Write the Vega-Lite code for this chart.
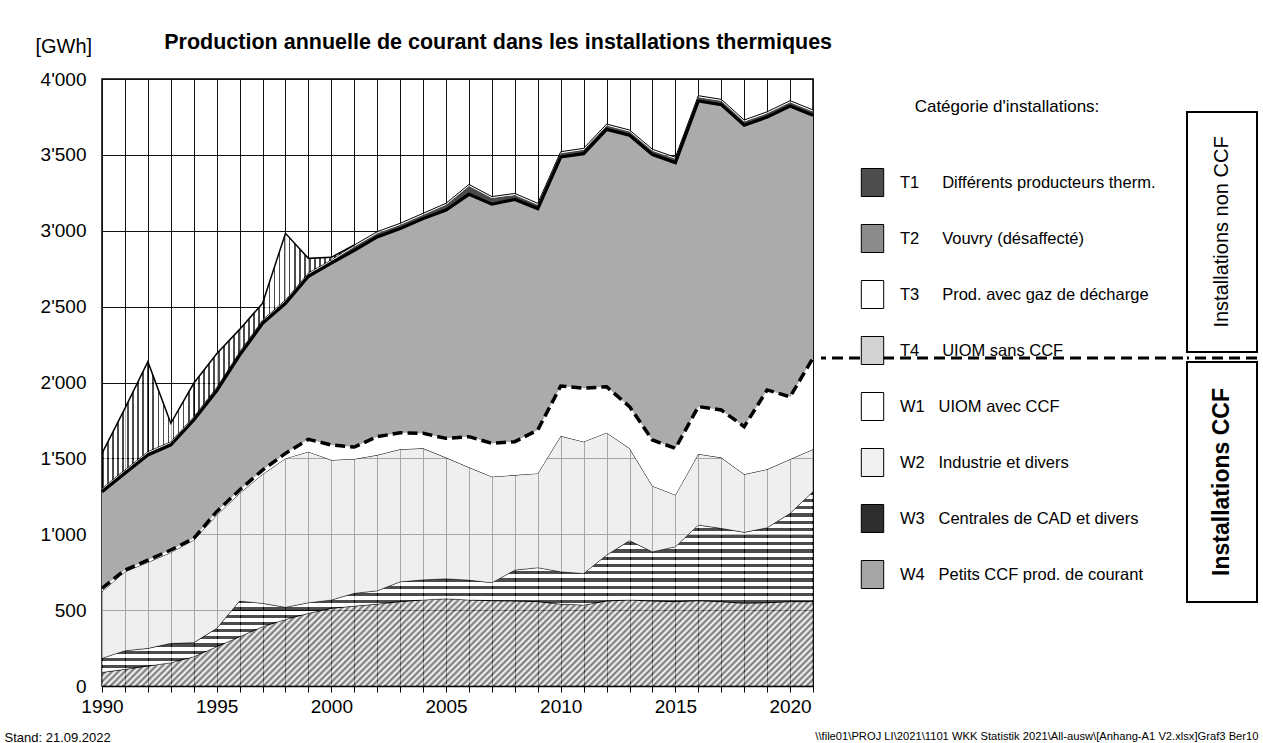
{
"$schema": "https://vega.github.io/schema/vega-lite/v6.json",
"background": "#ffffff",
"padding": {"left": 3, "top": 31, "right": 0, "bottom": 0},
"title": {"text": "Production annuelle de courant dans les installations thermiques", "anchor": "start", "frame": "bounds", "dx": 161, "dy": 40, "offset": 0, "baseline": "bottom", "fontSize": 21.5, "fontWeight": "bold", "font": "Liberation Sans", "color": "#000"},
"resolve": {"legend": {"color": "independent"}, "scale": {"color": "independent"}},
"datasets": {"prod": [
{"year":1990,"cat":"W4","value":90},{"year":1990,"cat":"W3","value":93},{"year":1990,"cat":"W2","value":438},{"year":1990,"cat":"W1","value":23},{"year":1990,"cat":"T4","value":636},{"year":1990,"cat":"T1","value":15},{"year":1990,"cat":"T3","value":8},{"year":1990,"cat":"T2","value":230},
{"year":1991,"cat":"W4","value":110},{"year":1991,"cat":"W3","value":123},{"year":1991,"cat":"W2","value":520},{"year":1991,"cat":"W1","value":11},{"year":1991,"cat":"T4","value":638},{"year":1991,"cat":"T1","value":15},{"year":1991,"cat":"T3","value":8},{"year":1991,"cat":"T2","value":405},
{"year":1992,"cat":"W4","value":132},{"year":1992,"cat":"W3","value":116},{"year":1992,"cat":"W2","value":567},{"year":1992,"cat":"W1","value":15},{"year":1992,"cat":"T4","value":692},{"year":1992,"cat":"T1","value":15},{"year":1992,"cat":"T3","value":8},{"year":1992,"cat":"T2","value":592},
{"year":1993,"cat":"W4","value":154},{"year":1993,"cat":"W3","value":127},{"year":1993,"cat":"W2","value":599},{"year":1993,"cat":"W1","value":16},{"year":1993,"cat":"T4","value":692},{"year":1993,"cat":"T1","value":15},{"year":1993,"cat":"T3","value":8},{"year":1993,"cat":"T2","value":120},
{"year":1994,"cat":"W4","value":193},{"year":1994,"cat":"W3","value":93},{"year":1994,"cat":"W2","value":676},{"year":1994,"cat":"W1","value":11},{"year":1994,"cat":"T4","value":780},{"year":1994,"cat":"T1","value":15},{"year":1994,"cat":"T3","value":8},{"year":1994,"cat":"T2","value":219},
{"year":1995,"cat":"W4","value":259},{"year":1995,"cat":"W3","value":121},{"year":1995,"cat":"W2","value":745},{"year":1995,"cat":"W1","value":24},{"year":1995,"cat":"T4","value":796},{"year":1995,"cat":"T1","value":15},{"year":1995,"cat":"T3","value":8},{"year":1995,"cat":"T2","value":222},
{"year":1996,"cat":"W4","value":325},{"year":1996,"cat":"W3","value":235},{"year":1996,"cat":"W2","value":710},{"year":1996,"cat":"W1","value":22},{"year":1996,"cat":"T4","value":888},{"year":1996,"cat":"T1","value":15},{"year":1996,"cat":"T3","value":8},{"year":1996,"cat":"T2","value":147},
{"year":1997,"cat":"W4","value":391},{"year":1997,"cat":"W3","value":154},{"year":1997,"cat":"W2","value":850},{"year":1997,"cat":"W1","value":28},{"year":1997,"cat":"T4","value":967},{"year":1997,"cat":"T1","value":15},{"year":1997,"cat":"T3","value":8},{"year":1997,"cat":"T2","value":109},
{"year":1998,"cat":"W4","value":439},{"year":1998,"cat":"W3","value":80},{"year":1998,"cat":"W2","value":981},{"year":1998,"cat":"W1","value":33},{"year":1998,"cat":"T4","value":989},{"year":1998,"cat":"T1","value":15},{"year":1998,"cat":"T3","value":8},{"year":1998,"cat":"T2","value":438},
{"year":1999,"cat":"W4","value":479},{"year":1999,"cat":"W3","value":70},{"year":1999,"cat":"W2","value":995},{"year":1999,"cat":"W1","value":82},{"year":1999,"cat":"T4","value":1074},{"year":1999,"cat":"T1","value":15},{"year":1999,"cat":"T3","value":8},{"year":1999,"cat":"T2","value":95},
{"year":2000,"cat":"W4","value":512},{"year":2000,"cat":"W3","value":55},{"year":2000,"cat":"W2","value":922},{"year":2000,"cat":"W1","value":99},{"year":2000,"cat":"T4","value":1198},{"year":2000,"cat":"T1","value":15},{"year":2000,"cat":"T3","value":8},{"year":2000,"cat":"T2","value":16},
{"year":2001,"cat":"W4","value":527},{"year":2001,"cat":"W3","value":84},{"year":2001,"cat":"W2","value":885},{"year":2001,"cat":"W1","value":79},{"year":2001,"cat":"T4","value":1296},{"year":2001,"cat":"T1","value":25},{"year":2001,"cat":"T3","value":10},{"year":2001,"cat":"T2","value":0},
{"year":2002,"cat":"W4","value":540},{"year":2002,"cat":"W3","value":88},{"year":2002,"cat":"W2","value":894},{"year":2002,"cat":"W1","value":121},{"year":2002,"cat":"T4","value":1316},{"year":2002,"cat":"T1","value":25},{"year":2002,"cat":"T3","value":10},
{"year":2003,"cat":"W4","value":556},{"year":2003,"cat":"W3","value":131},{"year":2003,"cat":"W2","value":873},{"year":2003,"cat":"W1","value":109},{"year":2003,"cat":"T4","value":1345},{"year":2003,"cat":"T1","value":25},{"year":2003,"cat":"T3","value":10},
{"year":2004,"cat":"W4","value":567},{"year":2004,"cat":"W3","value":133},{"year":2004,"cat":"W2","value":866},{"year":2004,"cat":"W1","value":99},{"year":2004,"cat":"T4","value":1415},{"year":2004,"cat":"T1","value":25},{"year":2004,"cat":"T3","value":10},
{"year":2005,"cat":"W4","value":575},{"year":2005,"cat":"W3","value":132},{"year":2005,"cat":"W2","value":798},{"year":2005,"cat":"W1","value":127},{"year":2005,"cat":"T4","value":1504},{"year":2005,"cat":"T1","value":35},{"year":2005,"cat":"T3","value":10},
{"year":2006,"cat":"W4","value":567},{"year":2006,"cat":"W3","value":131},{"year":2006,"cat":"W2","value":743},{"year":2006,"cat":"W1","value":202},{"year":2006,"cat":"T4","value":1597},{"year":2006,"cat":"T1","value":55},{"year":2006,"cat":"T3","value":10},
{"year":2007,"cat":"W4","value":562},{"year":2007,"cat":"W3","value":119},{"year":2007,"cat":"W2","value":698},{"year":2007,"cat":"W1","value":220},{"year":2007,"cat":"T4","value":1576},{"year":2007,"cat":"T1","value":40},{"year":2007,"cat":"T3","value":10},
{"year":2008,"cat":"W4","value":560},{"year":2008,"cat":"W3","value":204},{"year":2008,"cat":"W2","value":626},{"year":2008,"cat":"W1","value":220},{"year":2008,"cat":"T4","value":1596},{"year":2008,"cat":"T1","value":30},{"year":2008,"cat":"T3","value":10},
{"year":2009,"cat":"W4","value":556},{"year":2009,"cat":"W3","value":224},{"year":2009,"cat":"W2","value":621},{"year":2009,"cat":"W1","value":286},{"year":2009,"cat":"T4","value":1459},{"year":2009,"cat":"T1","value":25},{"year":2009,"cat":"T3","value":10},
{"year":2010,"cat":"W4","value":540},{"year":2010,"cat":"W3","value":213},{"year":2010,"cat":"W2","value":894},{"year":2010,"cat":"W1","value":330},{"year":2010,"cat":"T4","value":1509},{"year":2010,"cat":"T1","value":25},{"year":2010,"cat":"T3","value":10},
{"year":2011,"cat":"W4","value":534},{"year":2011,"cat":"W3","value":208},{"year":2011,"cat":"W2","value":868},{"year":2011,"cat":"W1","value":352},{"year":2011,"cat":"T4","value":1546},{"year":2011,"cat":"T1","value":25},{"year":2011,"cat":"T3","value":10},
{"year":2012,"cat":"W4","value":560},{"year":2012,"cat":"W3","value":303},{"year":2012,"cat":"W2","value":806},{"year":2012,"cat":"W1","value":303},{"year":2012,"cat":"T4","value":1696},{"year":2012,"cat":"T1","value":25},{"year":2012,"cat":"T3","value":10},
{"year":2013,"cat":"W4","value":567},{"year":2013,"cat":"W3","value":391},{"year":2013,"cat":"W2","value":608},{"year":2013,"cat":"W1","value":275},{"year":2013,"cat":"T4","value":1788},{"year":2013,"cat":"T1","value":25},{"year":2013,"cat":"T3","value":10},
{"year":2014,"cat":"W4","value":560},{"year":2014,"cat":"W3","value":325},{"year":2014,"cat":"W2","value":433},{"year":2014,"cat":"W1","value":303},{"year":2014,"cat":"T4","value":1881},{"year":2014,"cat":"T1","value":25},{"year":2014,"cat":"T3","value":10},
{"year":2015,"cat":"W4","value":556},{"year":2015,"cat":"W3","value":362},{"year":2015,"cat":"W2","value":341},{"year":2015,"cat":"W1","value":307},{"year":2015,"cat":"T4","value":1883},{"year":2015,"cat":"T1","value":25},{"year":2015,"cat":"T3","value":10},
{"year":2016,"cat":"W4","value":562},{"year":2016,"cat":"W3","value":499},{"year":2016,"cat":"W2","value":468},{"year":2016,"cat":"W1","value":312},{"year":2016,"cat":"T4","value":2014},{"year":2016,"cat":"T1","value":25},{"year":2016,"cat":"T3","value":10},
{"year":2017,"cat":"W4","value":556},{"year":2017,"cat":"W3","value":483},{"year":2017,"cat":"W2","value":466},{"year":2017,"cat":"W1","value":314},{"year":2017,"cat":"T4","value":2012},{"year":2017,"cat":"T1","value":25},{"year":2017,"cat":"T3","value":10},
{"year":2018,"cat":"W4","value":545},{"year":2018,"cat":"W3","value":468},{"year":2018,"cat":"W2","value":382},{"year":2018,"cat":"W1","value":314},{"year":2018,"cat":"T4","value":1986},{"year":2018,"cat":"T1","value":25},{"year":2018,"cat":"T3","value":10},
{"year":2019,"cat":"W4","value":549},{"year":2019,"cat":"W3","value":494},{"year":2019,"cat":"W2","value":385},{"year":2019,"cat":"W1","value":523},{"year":2019,"cat":"T4","value":1798},{"year":2019,"cat":"T1","value":25},{"year":2019,"cat":"T3","value":10},
{"year":2020,"cat":"W4","value":556},{"year":2020,"cat":"W3","value":582},{"year":2020,"cat":"W2","value":356},{"year":2020,"cat":"W1","value":412},{"year":2020,"cat":"T4","value":1916},{"year":2020,"cat":"T1","value":25},{"year":2020,"cat":"T3","value":10},
{"year":2021,"cat":"W4","value":556},{"year":2021,"cat":"W3","value":725},{"year":2021,"cat":"W2","value":279},{"year":2021,"cat":"W1","value":601},{"year":2021,"cat":"T4","value":1600},{"year":2021,"cat":"T1","value":25},{"year":2021,"cat":"T3","value":10}
]},
"spacing": -6,
"hconcat": [
{
 "width": 711, "height": 607,
 "view": {"stroke": "#000", "strokeWidth": 1.5},
 "data": {"name": "prod"},
 "transform": [{"stack": "value", "groupby": ["year"], "as": ["v0", "v1"]}],
 "encoding": {
  "x": {"field": "year", "type": "quantitative", "scale": {"domain": [1990, 2021], "nice": false, "zero": false},
   "axis": {"values": [1990,1991,1992,1993,1994,1995,1996,1997,1998,1999,2000,2001,2002,2003,2004,2005,2006,2007,2008,2009,2010,2011,2012,2013,2014,2015,2016,2017,2018,2019,2020,2021],
    "format": "d", "labelExpr": "datum.value % 5 === 0 ? datum.label : ''",
    "grid": true, "gridColor": "#111", "gridWidth": 1, "gridOpacity": 1,
    "domain": true, "domainColor": "#000", "domainWidth": 1.5,
    "ticks": true, "tickColor": "#000", "tickSize": 6, "tickWidth": 1,
    "labelFontSize": 19, "labelColor": "#000", "labelPadding": 5, "labelFlush": false, "labelOverlap": false, "labelBound": false,
    "title": "Stand: 21.09.2022", "titleX": -98, "titleY": 51, "titleAlign": "left", "titleAnchor": "start", "titleBaseline": "middle",
    "titleFontSize": 13, "titleFontWeight": "normal", "titleColor": "#000"}},
  "y": {"field": "v1", "type": "quantitative", "scale": {"domain": [0, 4000], "nice": false},
   "axis": {"values": [0,500,1000,1500,2000,2500,3000,3500,4000],
    "labelExpr": "replace(format(datum.value, ','), ',', \"'\")",
    "grid": true, "gridColor": "#111", "gridWidth": 1, "gridOpacity": 1,
    "domain": false, "ticks": false, "labelFontSize": 19, "labelColor": "#000", "labelPadding": 16,
    "title": "[GWh]", "titleAngle": 0, "titleX": -67, "titleY": -33, "titleAlign": "left", "titleAnchor": "start", "titleBaseline": "middle",
    "titleFontSize": 20, "titleFontWeight": "normal", "titleColor": "#000"}}
 },
 "layer": [
  {"transform": [{"filter": "datum.cat === 'W4'"}],
   "mark": {"type": "area", "orient": "vertical", "line": {"color": "#000", "strokeWidth": 1},
    "fill": {"gradient": "linear", "x1": 0, "y1": 0, "x2": 1.106, "y2": 0.136, "stops": [
{"offset":0,"color":"#333"},{"offset":0.004,"color":"#fff"},{"offset":0.008,"color":"#333"},{"offset":0.012,"color":"#fff"},{"offset":0.016,"color":"#333"},{"offset":0.02,"color":"#fff"},{"offset":0.024,"color":"#333"},{"offset":0.028,"color":"#fff"},{"offset":0.032,"color":"#333"},{"offset":0.036,"color":"#fff"},{"offset":0.04,"color":"#333"},{"offset":0.044,"color":"#fff"},{"offset":0.048,"color":"#333"},{"offset":0.052,"color":"#fff"},{"offset":0.056,"color":"#333"},{"offset":0.06,"color":"#fff"},{"offset":0.064,"color":"#333"},{"offset":0.068,"color":"#fff"},{"offset":0.072,"color":"#333"},{"offset":0.076,"color":"#fff"},{"offset":0.08,"color":"#333"},{"offset":0.084,"color":"#fff"},{"offset":0.088,"color":"#333"},{"offset":0.092,"color":"#fff"},{"offset":0.096,"color":"#333"},{"offset":0.1,"color":"#fff"},{"offset":0.104,"color":"#333"},{"offset":0.108,"color":"#fff"},{"offset":0.112,"color":"#333"},{"offset":0.116,"color":"#fff"},{"offset":0.12,"color":"#333"},{"offset":0.124,"color":"#fff"},{"offset":0.128,"color":"#333"},{"offset":0.132,"color":"#fff"},{"offset":0.136,"color":"#333"},{"offset":0.14,"color":"#fff"},{"offset":0.144,"color":"#333"},{"offset":0.148,"color":"#fff"},{"offset":0.152,"color":"#333"},{"offset":0.156,"color":"#fff"},{"offset":0.16,"color":"#333"},{"offset":0.164,"color":"#fff"},{"offset":0.168,"color":"#333"},{"offset":0.172,"color":"#fff"},{"offset":0.176,"color":"#333"},{"offset":0.18,"color":"#fff"},{"offset":0.184,"color":"#333"},{"offset":0.188,"color":"#fff"},{"offset":0.192,"color":"#333"},{"offset":0.196,"color":"#fff"},
{"offset":0.2,"color":"#333"},{"offset":0.204,"color":"#fff"},{"offset":0.208,"color":"#333"},{"offset":0.212,"color":"#fff"},{"offset":0.216,"color":"#333"},{"offset":0.22,"color":"#fff"},{"offset":0.224,"color":"#333"},{"offset":0.228,"color":"#fff"},{"offset":0.232,"color":"#333"},{"offset":0.236,"color":"#fff"},{"offset":0.24,"color":"#333"},{"offset":0.244,"color":"#fff"},{"offset":0.248,"color":"#333"},{"offset":0.252,"color":"#fff"},{"offset":0.256,"color":"#333"},{"offset":0.26,"color":"#fff"},{"offset":0.264,"color":"#333"},{"offset":0.268,"color":"#fff"},{"offset":0.272,"color":"#333"},{"offset":0.276,"color":"#fff"},{"offset":0.28,"color":"#333"},{"offset":0.284,"color":"#fff"},{"offset":0.288,"color":"#333"},{"offset":0.292,"color":"#fff"},{"offset":0.296,"color":"#333"},{"offset":0.3,"color":"#fff"},{"offset":0.304,"color":"#333"},{"offset":0.308,"color":"#fff"},{"offset":0.312,"color":"#333"},{"offset":0.316,"color":"#fff"},{"offset":0.32,"color":"#333"},{"offset":0.324,"color":"#fff"},{"offset":0.328,"color":"#333"},{"offset":0.332,"color":"#fff"},{"offset":0.336,"color":"#333"},{"offset":0.34,"color":"#fff"},{"offset":0.344,"color":"#333"},{"offset":0.348,"color":"#fff"},{"offset":0.352,"color":"#333"},{"offset":0.356,"color":"#fff"},{"offset":0.36,"color":"#333"},{"offset":0.364,"color":"#fff"},{"offset":0.368,"color":"#333"},{"offset":0.372,"color":"#fff"},{"offset":0.376,"color":"#333"},{"offset":0.38,"color":"#fff"},{"offset":0.384,"color":"#333"},{"offset":0.388,"color":"#fff"},{"offset":0.392,"color":"#333"},{"offset":0.396,"color":"#fff"},
{"offset":0.4,"color":"#333"},{"offset":0.404,"color":"#fff"},{"offset":0.408,"color":"#333"},{"offset":0.412,"color":"#fff"},{"offset":0.416,"color":"#333"},{"offset":0.42,"color":"#fff"},{"offset":0.424,"color":"#333"},{"offset":0.428,"color":"#fff"},{"offset":0.432,"color":"#333"},{"offset":0.436,"color":"#fff"},{"offset":0.44,"color":"#333"},{"offset":0.444,"color":"#fff"},{"offset":0.448,"color":"#333"},{"offset":0.452,"color":"#fff"},{"offset":0.456,"color":"#333"},{"offset":0.46,"color":"#fff"},{"offset":0.464,"color":"#333"},{"offset":0.468,"color":"#fff"},{"offset":0.472,"color":"#333"},{"offset":0.476,"color":"#fff"},{"offset":0.48,"color":"#333"},{"offset":0.484,"color":"#fff"},{"offset":0.488,"color":"#333"},{"offset":0.492,"color":"#fff"},{"offset":0.496,"color":"#333"},{"offset":0.5,"color":"#fff"},{"offset":0.504,"color":"#333"},{"offset":0.508,"color":"#fff"},{"offset":0.512,"color":"#333"},{"offset":0.516,"color":"#fff"},{"offset":0.52,"color":"#333"},{"offset":0.524,"color":"#fff"},{"offset":0.528,"color":"#333"},{"offset":0.532,"color":"#fff"},{"offset":0.536,"color":"#333"},{"offset":0.54,"color":"#fff"},{"offset":0.544,"color":"#333"},{"offset":0.548,"color":"#fff"},{"offset":0.552,"color":"#333"},{"offset":0.556,"color":"#fff"},{"offset":0.56,"color":"#333"},{"offset":0.564,"color":"#fff"},{"offset":0.568,"color":"#333"},{"offset":0.572,"color":"#fff"},{"offset":0.576,"color":"#333"},{"offset":0.58,"color":"#fff"},{"offset":0.584,"color":"#333"},{"offset":0.588,"color":"#fff"},{"offset":0.592,"color":"#333"},{"offset":0.596,"color":"#fff"},
{"offset":0.6,"color":"#333"},{"offset":0.604,"color":"#fff"},{"offset":0.608,"color":"#333"},{"offset":0.612,"color":"#fff"},{"offset":0.616,"color":"#333"},{"offset":0.62,"color":"#fff"},{"offset":0.624,"color":"#333"},{"offset":0.628,"color":"#fff"},{"offset":0.632,"color":"#333"},{"offset":0.636,"color":"#fff"},{"offset":0.64,"color":"#333"},{"offset":0.644,"color":"#fff"},{"offset":0.648,"color":"#333"},{"offset":0.652,"color":"#fff"},{"offset":0.656,"color":"#333"},{"offset":0.66,"color":"#fff"},{"offset":0.664,"color":"#333"},{"offset":0.668,"color":"#fff"},{"offset":0.672,"color":"#333"},{"offset":0.676,"color":"#fff"},{"offset":0.68,"color":"#333"},{"offset":0.684,"color":"#fff"},{"offset":0.688,"color":"#333"},{"offset":0.692,"color":"#fff"},{"offset":0.696,"color":"#333"},{"offset":0.7,"color":"#fff"},{"offset":0.704,"color":"#333"},{"offset":0.708,"color":"#fff"},{"offset":0.712,"color":"#333"},{"offset":0.716,"color":"#fff"},{"offset":0.72,"color":"#333"},{"offset":0.724,"color":"#fff"},{"offset":0.728,"color":"#333"},{"offset":0.732,"color":"#fff"},{"offset":0.736,"color":"#333"},{"offset":0.74,"color":"#fff"},{"offset":0.744,"color":"#333"},{"offset":0.748,"color":"#fff"},{"offset":0.752,"color":"#333"},{"offset":0.756,"color":"#fff"},{"offset":0.76,"color":"#333"},{"offset":0.764,"color":"#fff"},{"offset":0.768,"color":"#333"},{"offset":0.772,"color":"#fff"},{"offset":0.776,"color":"#333"},{"offset":0.78,"color":"#fff"},{"offset":0.784,"color":"#333"},{"offset":0.788,"color":"#fff"},{"offset":0.792,"color":"#333"},{"offset":0.796,"color":"#fff"},
{"offset":0.8,"color":"#333"},{"offset":0.804,"color":"#fff"},{"offset":0.808,"color":"#333"},{"offset":0.812,"color":"#fff"},{"offset":0.816,"color":"#333"},{"offset":0.82,"color":"#fff"},{"offset":0.824,"color":"#333"},{"offset":0.828,"color":"#fff"},{"offset":0.832,"color":"#333"},{"offset":0.836,"color":"#fff"},{"offset":0.84,"color":"#333"},{"offset":0.844,"color":"#fff"},{"offset":0.848,"color":"#333"},{"offset":0.852,"color":"#fff"},{"offset":0.856,"color":"#333"},{"offset":0.86,"color":"#fff"},{"offset":0.864,"color":"#333"},{"offset":0.868,"color":"#fff"},{"offset":0.872,"color":"#333"},{"offset":0.876,"color":"#fff"},{"offset":0.88,"color":"#333"},{"offset":0.884,"color":"#fff"},{"offset":0.888,"color":"#333"},{"offset":0.892,"color":"#fff"},{"offset":0.896,"color":"#333"},{"offset":0.9,"color":"#fff"},{"offset":0.904,"color":"#333"},{"offset":0.908,"color":"#fff"},{"offset":0.912,"color":"#333"},{"offset":0.916,"color":"#fff"},{"offset":0.92,"color":"#333"},{"offset":0.924,"color":"#fff"},{"offset":0.928,"color":"#333"},{"offset":0.932,"color":"#fff"},{"offset":0.936,"color":"#333"},{"offset":0.94,"color":"#fff"},{"offset":0.944,"color":"#333"},{"offset":0.948,"color":"#fff"},{"offset":0.952,"color":"#333"},{"offset":0.956,"color":"#fff"},{"offset":0.96,"color":"#333"},{"offset":0.964,"color":"#fff"},{"offset":0.968,"color":"#333"},{"offset":0.972,"color":"#fff"},{"offset":0.976,"color":"#333"},{"offset":0.98,"color":"#fff"},{"offset":0.984,"color":"#333"},{"offset":0.988,"color":"#fff"},{"offset":0.992,"color":"#333"},{"offset":0.996,"color":"#fff"},{"offset":1,"color":"#333"}
    ]}},
   "encoding": {"y2": {"field": "v0"}}},
  {"transform": [{"filter": "datum.cat === 'W3'"}],
   "mark": {"type": "area", "orient": "vertical", "line": {"color": "#000", "strokeWidth": 1},
    "fill": {"gradient": "linear", "x1": 0, "y1": 0, "x2": 0, "y2": 1, "stops": [
{"offset":0,"color":"#000"},{"offset":0.018,"color":"#000"},{"offset":0.018,"color":"#fff"},{"offset":0.04,"color":"#fff"},
{"offset":0.04,"color":"#000"},{"offset":0.058,"color":"#000"},{"offset":0.058,"color":"#fff"},{"offset":0.08,"color":"#fff"},
{"offset":0.08,"color":"#000"},{"offset":0.098,"color":"#000"},{"offset":0.098,"color":"#fff"},{"offset":0.12,"color":"#fff"},
{"offset":0.12,"color":"#000"},{"offset":0.138,"color":"#000"},{"offset":0.138,"color":"#fff"},{"offset":0.16,"color":"#fff"},
{"offset":0.16,"color":"#000"},{"offset":0.178,"color":"#000"},{"offset":0.178,"color":"#fff"},{"offset":0.2,"color":"#fff"},
{"offset":0.2,"color":"#000"},{"offset":0.218,"color":"#000"},{"offset":0.218,"color":"#fff"},{"offset":0.24,"color":"#fff"},
{"offset":0.24,"color":"#000"},{"offset":0.258,"color":"#000"},{"offset":0.258,"color":"#fff"},{"offset":0.28,"color":"#fff"},
{"offset":0.28,"color":"#000"},{"offset":0.298,"color":"#000"},{"offset":0.298,"color":"#fff"},{"offset":0.32,"color":"#fff"},
{"offset":0.32,"color":"#000"},{"offset":0.338,"color":"#000"},{"offset":0.338,"color":"#fff"},{"offset":0.36,"color":"#fff"},
{"offset":0.36,"color":"#000"},{"offset":0.378,"color":"#000"},{"offset":0.378,"color":"#fff"},{"offset":0.4,"color":"#fff"},
{"offset":0.4,"color":"#000"},{"offset":0.418,"color":"#000"},{"offset":0.418,"color":"#fff"},{"offset":0.44,"color":"#fff"},
{"offset":0.44,"color":"#000"},{"offset":0.458,"color":"#000"},{"offset":0.458,"color":"#fff"},{"offset":0.48,"color":"#fff"},
{"offset":0.48,"color":"#000"},{"offset":0.498,"color":"#000"},{"offset":0.498,"color":"#fff"},{"offset":0.52,"color":"#fff"},
{"offset":0.52,"color":"#000"},{"offset":0.538,"color":"#000"},{"offset":0.538,"color":"#fff"},{"offset":0.56,"color":"#fff"},
{"offset":0.56,"color":"#000"},{"offset":0.578,"color":"#000"},{"offset":0.578,"color":"#fff"},{"offset":0.6,"color":"#fff"},
{"offset":0.6,"color":"#000"},{"offset":0.618,"color":"#000"},{"offset":0.618,"color":"#fff"},{"offset":0.64,"color":"#fff"},
{"offset":0.64,"color":"#000"},{"offset":0.658,"color":"#000"},{"offset":0.658,"color":"#fff"},{"offset":0.68,"color":"#fff"},
{"offset":0.68,"color":"#000"},{"offset":0.698,"color":"#000"},{"offset":0.698,"color":"#fff"},{"offset":0.72,"color":"#fff"},
{"offset":0.72,"color":"#000"},{"offset":0.738,"color":"#000"},{"offset":0.738,"color":"#fff"},{"offset":0.76,"color":"#fff"},
{"offset":0.76,"color":"#000"},{"offset":0.778,"color":"#000"},{"offset":0.778,"color":"#fff"},{"offset":0.8,"color":"#fff"},
{"offset":0.8,"color":"#000"},{"offset":0.818,"color":"#000"},{"offset":0.818,"color":"#fff"},{"offset":0.84,"color":"#fff"},
{"offset":0.84,"color":"#000"},{"offset":0.858,"color":"#000"},{"offset":0.858,"color":"#fff"},{"offset":0.88,"color":"#fff"},
{"offset":0.88,"color":"#000"},{"offset":0.898,"color":"#000"},{"offset":0.898,"color":"#fff"},{"offset":0.92,"color":"#fff"},
{"offset":0.92,"color":"#000"},{"offset":0.938,"color":"#000"},{"offset":0.938,"color":"#fff"},{"offset":0.96,"color":"#fff"},
{"offset":0.96,"color":"#000"},{"offset":0.978,"color":"#000"},{"offset":0.978,"color":"#fff"},{"offset":1,"color":"#fff"}
    ]}},
   "encoding": {"y2": {"field": "v0"}}},
  {"transform": [{"filter": "datum.cat === 'W2'"}],
   "mark": {"type": "area", "orient": "vertical", "fill": "#e8e8e8", "line": {"color": "#000", "strokeWidth": 1}},
   "encoding": {"y2": {"field": "v0"}}},
  {"transform": [{"filter": "datum.cat === 'W1'"}],
   "mark": {"type": "area", "orient": "vertical", "fill": "#ffffff"},
   "encoding": {"y2": {"field": "v0"}}},
  {"transform": [{"filter": "datum.cat === 'T4'"}],
   "mark": {"type": "area", "orient": "vertical", "fill": "#ababab"},
   "encoding": {"y2": {"field": "v0"}}},
  {"transform": [{"filter": "datum.cat === 'T1'"}],
   "mark": {"type": "area", "orient": "vertical", "fill": "#4a4a4a"},
   "encoding": {"y2": {"field": "v0"}}},
  {"transform": [{"filter": "datum.cat === 'T3'"}],
   "mark": {"type": "area", "orient": "vertical", "fill": "#ffffff", "line": {"color": "#000", "strokeWidth": 1}},
   "encoding": {"y2": {"field": "v0"}}},
  {"transform": [{"filter": "datum.cat === 'T2'"}],
   "mark": {"type": "area", "orient": "vertical", "line": {"color": "#000", "strokeWidth": 1.5},
    "fill": {"gradient": "linear", "x1": 0, "y1": 0, "x2": 1, "y2": 0, "stops": [
{"offset":0,"color":"#000"},{"offset":0.007,"color":"#000"},{"offset":0.007,"color":"#fff"},{"offset":0.02,"color":"#fff"},
{"offset":0.02,"color":"#000"},{"offset":0.027,"color":"#000"},{"offset":0.027,"color":"#fff"},{"offset":0.04,"color":"#fff"},
{"offset":0.04,"color":"#000"},{"offset":0.047,"color":"#000"},{"offset":0.047,"color":"#fff"},{"offset":0.06,"color":"#fff"},
{"offset":0.06,"color":"#000"},{"offset":0.067,"color":"#000"},{"offset":0.067,"color":"#fff"},{"offset":0.08,"color":"#fff"},
{"offset":0.08,"color":"#000"},{"offset":0.087,"color":"#000"},{"offset":0.087,"color":"#fff"},{"offset":0.1,"color":"#fff"},
{"offset":0.1,"color":"#000"},{"offset":0.107,"color":"#000"},{"offset":0.107,"color":"#fff"},{"offset":0.12,"color":"#fff"},
{"offset":0.12,"color":"#000"},{"offset":0.127,"color":"#000"},{"offset":0.127,"color":"#fff"},{"offset":0.14,"color":"#fff"},
{"offset":0.14,"color":"#000"},{"offset":0.147,"color":"#000"},{"offset":0.147,"color":"#fff"},{"offset":0.16,"color":"#fff"},
{"offset":0.16,"color":"#000"},{"offset":0.167,"color":"#000"},{"offset":0.167,"color":"#fff"},{"offset":0.18,"color":"#fff"},
{"offset":0.18,"color":"#000"},{"offset":0.187,"color":"#000"},{"offset":0.187,"color":"#fff"},{"offset":0.2,"color":"#fff"},
{"offset":0.2,"color":"#000"},{"offset":0.207,"color":"#000"},{"offset":0.207,"color":"#fff"},{"offset":0.22,"color":"#fff"},
{"offset":0.22,"color":"#000"},{"offset":0.227,"color":"#000"},{"offset":0.227,"color":"#fff"},{"offset":0.24,"color":"#fff"},
{"offset":0.24,"color":"#000"},{"offset":0.247,"color":"#000"},{"offset":0.247,"color":"#fff"},{"offset":0.26,"color":"#fff"},
{"offset":0.26,"color":"#000"},{"offset":0.267,"color":"#000"},{"offset":0.267,"color":"#fff"},{"offset":0.28,"color":"#fff"},
{"offset":0.28,"color":"#000"},{"offset":0.287,"color":"#000"},{"offset":0.287,"color":"#fff"},{"offset":0.3,"color":"#fff"},
{"offset":0.3,"color":"#000"},{"offset":0.307,"color":"#000"},{"offset":0.307,"color":"#fff"},{"offset":0.32,"color":"#fff"},
{"offset":0.32,"color":"#000"},{"offset":0.327,"color":"#000"},{"offset":0.327,"color":"#fff"},{"offset":0.34,"color":"#fff"},
{"offset":0.34,"color":"#000"},{"offset":0.347,"color":"#000"},{"offset":0.347,"color":"#fff"},{"offset":0.36,"color":"#fff"},
{"offset":0.36,"color":"#000"},{"offset":0.367,"color":"#000"},{"offset":0.367,"color":"#fff"},{"offset":0.38,"color":"#fff"},
{"offset":0.38,"color":"#000"},{"offset":0.387,"color":"#000"},{"offset":0.387,"color":"#fff"},{"offset":0.4,"color":"#fff"},
{"offset":0.4,"color":"#000"},{"offset":0.407,"color":"#000"},{"offset":0.407,"color":"#fff"},{"offset":0.42,"color":"#fff"},
{"offset":0.42,"color":"#000"},{"offset":0.427,"color":"#000"},{"offset":0.427,"color":"#fff"},{"offset":0.44,"color":"#fff"},
{"offset":0.44,"color":"#000"},{"offset":0.447,"color":"#000"},{"offset":0.447,"color":"#fff"},{"offset":0.46,"color":"#fff"},
{"offset":0.46,"color":"#000"},{"offset":0.467,"color":"#000"},{"offset":0.467,"color":"#fff"},{"offset":0.48,"color":"#fff"},
{"offset":0.48,"color":"#000"},{"offset":0.487,"color":"#000"},{"offset":0.487,"color":"#fff"},{"offset":0.5,"color":"#fff"},
{"offset":0.5,"color":"#000"},{"offset":0.507,"color":"#000"},{"offset":0.507,"color":"#fff"},{"offset":0.52,"color":"#fff"},
{"offset":0.52,"color":"#000"},{"offset":0.527,"color":"#000"},{"offset":0.527,"color":"#fff"},{"offset":0.54,"color":"#fff"},
{"offset":0.54,"color":"#000"},{"offset":0.547,"color":"#000"},{"offset":0.547,"color":"#fff"},{"offset":0.56,"color":"#fff"},
{"offset":0.56,"color":"#000"},{"offset":0.567,"color":"#000"},{"offset":0.567,"color":"#fff"},{"offset":0.58,"color":"#fff"},
{"offset":0.58,"color":"#000"},{"offset":0.587,"color":"#000"},{"offset":0.587,"color":"#fff"},{"offset":0.6,"color":"#fff"},
{"offset":0.6,"color":"#000"},{"offset":0.607,"color":"#000"},{"offset":0.607,"color":"#fff"},{"offset":0.62,"color":"#fff"},
{"offset":0.62,"color":"#000"},{"offset":0.627,"color":"#000"},{"offset":0.627,"color":"#fff"},{"offset":0.64,"color":"#fff"},
{"offset":0.64,"color":"#000"},{"offset":0.647,"color":"#000"},{"offset":0.647,"color":"#fff"},{"offset":0.66,"color":"#fff"},
{"offset":0.66,"color":"#000"},{"offset":0.667,"color":"#000"},{"offset":0.667,"color":"#fff"},{"offset":0.68,"color":"#fff"},
{"offset":0.68,"color":"#000"},{"offset":0.687,"color":"#000"},{"offset":0.687,"color":"#fff"},{"offset":0.7,"color":"#fff"},
{"offset":0.7,"color":"#000"},{"offset":0.707,"color":"#000"},{"offset":0.707,"color":"#fff"},{"offset":0.72,"color":"#fff"},
{"offset":0.72,"color":"#000"},{"offset":0.727,"color":"#000"},{"offset":0.727,"color":"#fff"},{"offset":0.74,"color":"#fff"},
{"offset":0.74,"color":"#000"},{"offset":0.747,"color":"#000"},{"offset":0.747,"color":"#fff"},{"offset":0.76,"color":"#fff"},
{"offset":0.76,"color":"#000"},{"offset":0.767,"color":"#000"},{"offset":0.767,"color":"#fff"},{"offset":0.78,"color":"#fff"},
{"offset":0.78,"color":"#000"},{"offset":0.787,"color":"#000"},{"offset":0.787,"color":"#fff"},{"offset":0.8,"color":"#fff"},
{"offset":0.8,"color":"#000"},{"offset":0.807,"color":"#000"},{"offset":0.807,"color":"#fff"},{"offset":0.82,"color":"#fff"},
{"offset":0.82,"color":"#000"},{"offset":0.827,"color":"#000"},{"offset":0.827,"color":"#fff"},{"offset":0.84,"color":"#fff"},
{"offset":0.84,"color":"#000"},{"offset":0.847,"color":"#000"},{"offset":0.847,"color":"#fff"},{"offset":0.86,"color":"#fff"},
{"offset":0.86,"color":"#000"},{"offset":0.867,"color":"#000"},{"offset":0.867,"color":"#fff"},{"offset":0.88,"color":"#fff"},
{"offset":0.88,"color":"#000"},{"offset":0.887,"color":"#000"},{"offset":0.887,"color":"#fff"},{"offset":0.9,"color":"#fff"},
{"offset":0.9,"color":"#000"},{"offset":0.907,"color":"#000"},{"offset":0.907,"color":"#fff"},{"offset":0.92,"color":"#fff"},
{"offset":0.92,"color":"#000"},{"offset":0.927,"color":"#000"},{"offset":0.927,"color":"#fff"},{"offset":0.94,"color":"#fff"},
{"offset":0.94,"color":"#000"},{"offset":0.947,"color":"#000"},{"offset":0.947,"color":"#fff"},{"offset":0.96,"color":"#fff"},
{"offset":0.96,"color":"#000"},{"offset":0.967,"color":"#000"},{"offset":0.967,"color":"#fff"},{"offset":0.98,"color":"#fff"},
{"offset":0.98,"color":"#000"},{"offset":0.987,"color":"#000"},{"offset":0.987,"color":"#fff"},{"offset":1,"color":"#fff"}
    ]}},
   "encoding": {"y2": {"field": "v0"}}},
  {"transform": [{"filter": "datum.cat === 'T4'"}],
   "mark": {"type": "line", "color": "#000", "strokeWidth": 3.2},
   "encoding": {}},
  {"transform": [{"filter": "datum.cat === 'W1'"}],
   "mark": {"type": "line", "color": "#000", "strokeWidth": 3.5, "strokeDash": [10, 5]},
   "encoding": {}}
 ]
},
{
 "spacing": 0,
 "resolve": {"legend": {"color": "independent"}, "scale": {"color": "independent"}},
 "title": {"text": "\\\\file01\\PROJ LI\\2021\\1101 WKK Statistik 2021\\All-ausw\\[Anhang-A1 V2.xlsx]Graf3 Ber10", "orient": "bottom", "anchor": "end", "frame": "bounds", "offset": 45, "dx": 0, "fontSize": 11.2, "fontWeight": "normal", "font": "Liberation Sans", "color": "#000"},
 "hconcat": [
  {
   "width": 362, "height": 607,
   "view": {"stroke": null},
   "layer": [
    {"data": {"name": "prod"},
     "transform": [{"filter": "datum.year === 2021"}, {"stack": "value", "groupby": ["year"], "as": ["v0", "v1"]}, {"filter": "datum.cat === 'W1'"}],
     "mark": {"type": "rule", "color": "#000", "strokeWidth": 3, "strokeDash": [11, 6]},
     "encoding": {"y": {"field": "v1", "type": "quantitative", "scale": {"domain": [0, 4000], "nice": false}, "axis": null}}},
    {"data": {"name": "prod"},
     "transform": [{"filter": "datum.year === 2021"}],
     "mark": {"type": "square", "opacity": 0, "stroke": "#000"},
     "encoding": {"color": {"field": "cat", "type": "nominal",
      "scale": {"domain": ["T1","T2","T3","T4","W1","W2","W3","W4"], "range": ["#4d4d4d","#8c8c8c","#ffffff","#d2d2d2","#ffffff","#f0f0f0","#2e2e2e","#a5a5a5"]},
      "legend": {"title": "Catégorie d'installations:", "orient": "none", "legendX": 37, "legendY": 20, "padding": 0,
       "symbolType": "M-0.8,-1H0.8V1H-0.8Z", "symbolSize": 784, "symbolStrokeColor": "#000", "symbolStrokeWidth": 1, "symbolOpacity": 1,
       "labelFont": "Liberation Sans", "labelFontSize": 16.5, "labelColor": "#000", "labelOffset": 13, "labelLimit": 400,
       "rowPadding": 23, "titleFont": "Liberation Sans", "titleFontSize": 17, "titleFontWeight": "normal", "titleColor": "#000", "titlePadding": 52, "titleAnchor": "middle", "titleLimit": 400,
       "labelExpr": "datum.label === 'T1' ? 'T1\u00a0\u00a0\u00a0\u00a0\u00a0Différents producteurs therm.' : datum.label === 'T2' ? 'T2\u00a0\u00a0\u00a0\u00a0\u00a0Vouvry (désaffecté)' : datum.label === 'T3' ? 'T3\u00a0\u00a0\u00a0\u00a0\u00a0Prod. avec gaz de décharge' : datum.label === 'T4' ? 'T4\u00a0\u00a0\u00a0\u00a0\u00a0UIOM sans CCF' : datum.label === 'W1' ? 'W1\u00a0\u00a0\u00a0UIOM avec CCF' : datum.label === 'W2' ? 'W2\u00a0\u00a0\u00a0Industrie et divers' : datum.label === 'W3' ? 'W3\u00a0\u00a0\u00a0Centrales de CAD et divers' : 'W4\u00a0\u00a0\u00a0Petits CCF prod. de courant'"}}}}
   ]
  },
  {
   "width": 70, "height": 607,
   "view": {"stroke": null},
   "resolve": {"scale": {"y": "independent"}},
   "layer": [
    {"data": {"values": [{"group": "Installations non CCF"}, {"group": "Installations CCF"}]},
     "mark": {"type": "rect", "fill": "#ffffff", "stroke": "#000", "strokeWidth": 2},
     "encoding": {"y": {"field": "group", "type": "nominal", "scale": {"type": "band", "domain": ["Installations non CCF", "Installations CCF"], "paddingInner": 0.04, "paddingOuter": 0.234, "align": 0.282}, "axis": null}}},
    {"data": {"values": [{"group": "Installations non CCF"}]},
     "mark": {"type": "text", "angle": 270, "fontSize": 20, "font": "Liberation Sans", "color": "#000", "align": "center", "baseline": "middle"},
     "encoding": {"y": {"field": "group", "type": "nominal", "scale": {"type": "band", "domain": ["Installations non CCF", "Installations CCF"], "paddingInner": 0.04, "paddingOuter": 0.234, "align": 0.282}, "axis": null}, "text": {"field": "group"}}},
    {"data": {"values": [{"group": "Installations CCF"}]},
     "mark": {"type": "text", "angle": 270, "fontSize": 23, "fontWeight": "bold", "font": "Liberation Sans", "color": "#000", "align": "center", "baseline": "middle"},
     "encoding": {"y": {"field": "group", "type": "nominal", "scale": {"type": "band", "domain": ["Installations non CCF", "Installations CCF"], "paddingInner": 0.04, "paddingOuter": 0.234, "align": 0.282}, "axis": null}, "text": {"field": "group"}}},
    {"data": {"name": "prod"},
     "transform": [{"filter": "datum.year === 2021"}, {"stack": "value", "groupby": ["year"], "as": ["v0", "v1"]}, {"filter": "datum.cat === 'W1'"}],
     "mark": {"type": "rule", "color": "#000", "strokeWidth": 3, "strokeDash": [11, 6]},
     "encoding": {"y": {"field": "v1", "type": "quantitative", "scale": {"domain": [0, 4000], "nice": false}, "axis": null}}}
   ]
  }
 ]
}
],
"config": {
 "font": "Liberation Sans",
 "view": {"stroke": null},
 "axis": {"labelFont": "Liberation Sans", "titleFont": "Liberation Sans", "labelColor": "#000", "titleColor": "#000"}
}
}
